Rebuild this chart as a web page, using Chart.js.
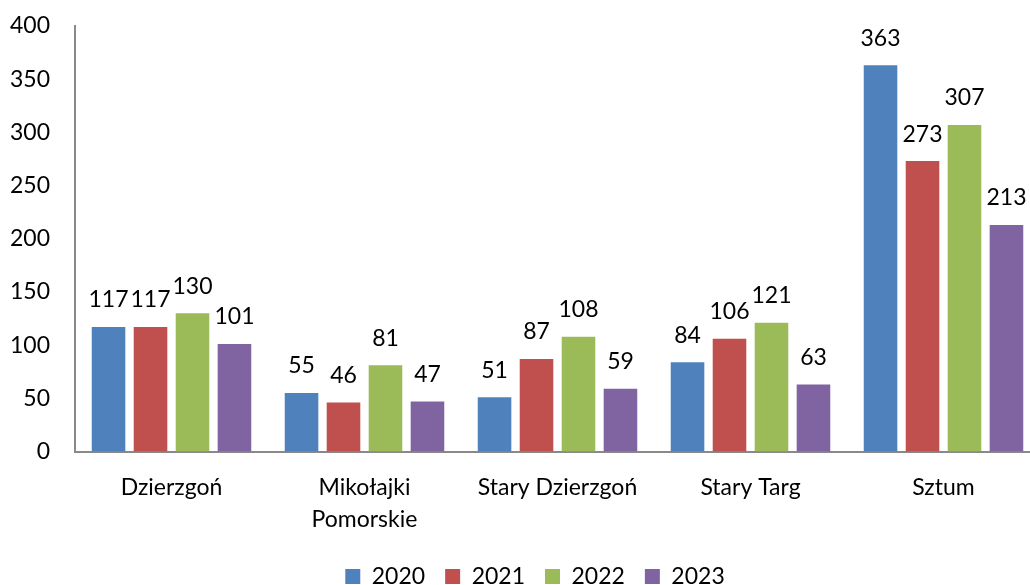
<!DOCTYPE html>
<html>
<head>
<meta charset="utf-8">
<script src="https://cdn.jsdelivr.net/npm/chart.js@4/dist/chart.umd.min.js"></script>
<style>
  html, body { margin: 0; padding: 0; background: #fff; overflow: hidden; }
  #wrap { width: 1045px; height: 585px; position: relative; }
</style>
</head>
<body>
<div id="wrap"><canvas id="chart"></canvas></div>
<script>
const categories = ['Dzierzgoń', ['Mikołajki', 'Pomorskie'], 'Stary Dzierzgoń', 'Stary Targ', 'Sztum']
const years = ['2020', '2021', '2022', '2023']
const values2020 = [117, 55, 51, 84, 363]
const values2021 = [117, 46, 87, 106, 273]
const values2022 = [130, 81, 108, 121, 307]
const values2023 = [101, 47, 59, 63, 213]
const colors = ['#4F81BD', '#C0504D', '#9BBB59', '#8064A2']

const FONT = 'Lato'
const axisColor = '#898989'

// draws the numbers above every bar
const barLabels = {
  id: 'barLabels',
  afterDatasetsDraw(chart) {
    const ctx = chart.ctx
    ctx.save()
    ctx.font = `23px ${FONT}`
    ctx.fillStyle = '#000'
    ctx.textAlign = 'center'
    ctx.textBaseline = 'middle'
    chart.data.datasets.forEach((ds, i) => {
      chart.getDatasetMeta(i).data.forEach((bar, j) => {
        ctx.fillText(String(ds.data[j]), bar.x, bar.y - 27)
      })
    })
    ctx.restore()
  }
}

// legend sits a bit right of the plot's centre in the original
const legendShift = {
  id: 'legendShift',
  afterLayout(chart) {
    chart.legend.left += 10
    chart.legend.right += 10
  }
}

const series = [values2020, values2021, values2022, values2023]

new Chart(document.getElementById('chart'), {
  type: 'bar',
  data: {
    labels: categories,
    datasets: series.map((vals, i) => ({
      label: years[i],
      data: vals,
      backgroundColor: colors[i],
      categoryPercentage: 0.87,
      barPercentage: 0.8
    }))
  },
  options: {
    responsive: true,
    maintainAspectRatio: false,
    animation: false,
    layout: { padding: { left: 10, right: 5, top: 26, bottom: -13 } },
    plugins: {
      tooltip: { enabled: false },
      legend: {
        position: 'bottom',
        labels: {
          boxWidth: 15,
          boxHeight: 15,
          padding: 20,
          color: '#000',
          font: { family: FONT, size: 23 }
        }
      }
    },
    scales: {
      x: {
        afterFit(scale) { scale.height -= 10 },
        grid: { display: false, drawTicks: false },
        border: { display: true, color: axisColor, width: 2 },
        ticks: { color: '#000', padding: 20, font: { family: FONT, size: 23, lineHeight: 1.38 }, maxRotation: 0 }
      },
      y: {
        min: 0,
        max: 400,
        afterFit(scale) {
          scale.width = 65
          // tick padding would otherwise also push the plot down from the top
          scale.paddingTop = 0
          scale.paddingBottom = 0
        },
        grid: { display: false, drawTicks: false },
        border: { display: true, color: axisColor, width: 2 },
        ticks: { stepSize: 50, color: '#000', padding: 25, font: { family: FONT, size: 23 } }
      }
    }
  },
  plugins: [barLabels, legendShift]
})
</script>
</body>
</html>
